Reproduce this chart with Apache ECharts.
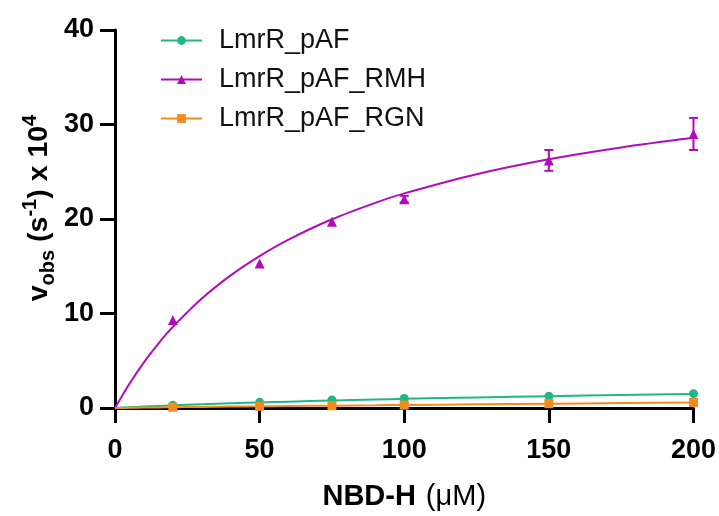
<!DOCTYPE html>
<html>
<head>
<meta charset="utf-8">
<script src="https://cdn.jsdelivr.net/npm/echarts@6/dist/echarts.min.js"></script>
<style>
  html, body { margin: 0; padding: 0; background: #fff; }
  #chart { width: 719px; height: 516px; }
</style>
</head>
<body>
<div id="chart"></div>
<script>
// NBD-H concentrations (µM) and measured rates (x 10^4 s^-1)
const doses = [20, 50, 75, 100, 150, 200];
const pafObs = [0.28, 0.60, 0.85, 1.00, 1.25, 1.52];
const rmhObs = [9.3, 15.3, 19.7, 22.1, 26.2, 29.0];
const rmhErr = [0, 0, 0, 0.35, 1.1, 1.7];
const rgnObs = [0.08, 0.18, 0.24, 0.30, 0.46, 0.58];

// Saturation fit curves, sampled along the concentration axis
const fitX = [0, 5, 10, 15, 20, 30, 40, 50, 60, 75, 90, 100, 125, 150, 175, 200];
const pafFit = [0, 0.08, 0.15, 0.22, 0.28, 0.39, 0.50, 0.59, 0.67, 0.79, 0.90, 0.97, 1.12, 1.25, 1.37, 1.48];
const rmhFit = [0, 2.57, 4.83, 6.82, 8.58, 11.58, 14.04, 16.08, 17.82, 19.97, 21.71, 22.71, 24.74, 26.32, 27.57, 28.59];
const rgnFit = [0, 0.02, 0.04, 0.06, 0.08, 0.11, 0.15, 0.18, 0.21, 0.25, 0.29, 0.32, 0.39, 0.45, 0.52, 0.58];

const seriesNames = ['LmrR_pAF', 'LmrR_pAF_RMH', 'LmrR_pAF_RGN'];
const xTicks = [0, 50, 100, 150, 200];
const yTicks = [0, 10, 20, 30, 40];

const GREEN = '#1fb880';
const PURPLE = '#b00cbc';
const ORANGE = '#f58a1f';
const FONT = '"Liberation Sans", Arial, sans-serif';

const pairs = (xs, ys) => xs.map((x, i) => [x, ys[i]]);

function fitSeries(name, ys, color, symbol) {
  return {
    name: name,
    type: 'line',
    data: pairs(fitX, ys),
    smooth: 0.3,
    symbol: symbol,
    showSymbol: false,
    symbolSize: 9,
    itemStyle: { color: color },
    lineStyle: { color: color, width: 2 },
    silent: true,
    z: 3
  };
}

function pointSeries(name, ys, color, symbol, size) {
  return {
    name: name + ' data',
    type: 'scatter',
    data: pairs(doses, ys),
    symbol: symbol,
    symbolSize: size,
    itemStyle: { color: color, opacity: 1 },
    z: 4
  };
}

const errData = doses.map((x, i) => [x, rmhObs[i] - rmhErr[i], rmhObs[i] + rmhErr[i]])
  .filter((d, i) => rmhErr[i] > 0);

const chart = echarts.init(document.getElementById('chart'), null, { renderer: 'canvas' });

chart.setOption({
  animation: false,
  backgroundColor: '#ffffff',
  grid: { left: 115, right: 25, top: 30, bottom: 103, containLabel: false },
  legend: {
    data: seriesNames,
    orient: 'vertical',
    left: 155,
    top: 22,
    itemWidth: 41,
    itemHeight: 11,
    itemGap: 12,
    textStyle: { fontFamily: FONT, fontSize: 27, color: '#111', padding: [0, 0, 0, 12] }
  },
  xAxis: {
    type: 'value',
    min: 0,
    max: 200,
    interval: 50,
    name: '{b|NBD-H}{s| }{r|(μM)}',
    nameLocation: 'middle',
    nameGap: 74,
    nameTextStyle: {
      rich: {
        b: { fontFamily: FONT, fontSize: 29, fontWeight: 'bold', color: '#000' },
        s: { fontFamily: FONT, fontSize: 29, color: '#000', width: 10 },
        r: { fontFamily: FONT, fontSize: 29, color: '#000' }
      }
    },
    axisLine: { show: true, onZero: false, lineStyle: { color: '#000', width: 3 } },
    axisTick: { show: true, length: 15, lineStyle: { color: '#000', width: 3 } },
    axisLabel: {
      margin: 29,
      fontFamily: FONT, fontSize: 27, fontWeight: 'bold', color: '#000',
      formatter: v => (xTicks.includes(v) ? String(v) : '')
    },
    splitLine: { show: false }
  },
  yAxis: {
    type: 'value',
    min: 0,
    max: 40,
    interval: 10,
    axisLine: { show: true, onZero: false, lineStyle: { color: '#000', width: 3 } },
    axisTick: { show: true, length: 15, lineStyle: { color: '#000', width: 3 } },
    axisLabel: {
      margin: 21,
      fontFamily: FONT, fontSize: 27, fontWeight: 'bold', color: '#000',
      formatter: v => (yTicks.includes(v) ? String(v) : '')
    },
    splitLine: { show: false }
  },
  graphic: [{
    type: 'text',
    x: 39,
    y: 208,
    rotation: Math.PI / 2,
    style: {
      text: '{b|v}{sub|obs}{b| (s}{sup|-1}{b|) x 10}{sup|4}',
      align: 'center',
      verticalAlign: 'middle',
      rich: {
        b: { fontFamily: FONT, fontSize: 28.5, fontWeight: 'bold', fill: '#000', lineHeight: 38, verticalAlign: 'middle' },
        sub: { fontFamily: FONT, fontSize: 20, fontWeight: 'bold', fill: '#000', lineHeight: 38, verticalAlign: 'bottom' },
        sup: { fontFamily: FONT, fontSize: 20, fontWeight: 'bold', fill: '#000', lineHeight: 38, verticalAlign: 'top' }
      }
    },
    z: 10
  }],
  series: [
    fitSeries(seriesNames[0], pafFit, GREEN, 'circle'),
    fitSeries(seriesNames[1], rmhFit, PURPLE, 'triangle'),
    fitSeries(seriesNames[2], rgnFit, ORANGE, 'rect'),
    pointSeries(seriesNames[0], pafObs, GREEN, 'circle', 9),
    pointSeries(seriesNames[2], rgnObs, ORANGE, 'rect', 9),
    pointSeries(seriesNames[1], rmhObs, PURPLE, 'triangle', 10),
    {
      name: 'RMH error',
      type: 'custom',
      data: errData,
      silent: true,
      z: 4,
      renderItem: function (params, api) {
        const x = api.value(0);
        const lo = api.coord([x, api.value(1)]);
        const hi = api.coord([x, api.value(2)]);
        const cap = 4.5;
        const st = { stroke: PURPLE, lineWidth: 2 };
        return {
          type: 'group',
          children: [
            { type: 'line', shape: { x1: lo[0], y1: lo[1], x2: hi[0], y2: hi[1] }, style: st },
            { type: 'line', shape: { x1: lo[0] - cap, y1: lo[1], x2: lo[0] + cap, y2: lo[1] }, style: st },
            { type: 'line', shape: { x1: hi[0] - cap, y1: hi[1], x2: hi[0] + cap, y2: hi[1] }, style: st }
          ]
        };
      }
    }
  ]
});
</script>
</body>
</html>
